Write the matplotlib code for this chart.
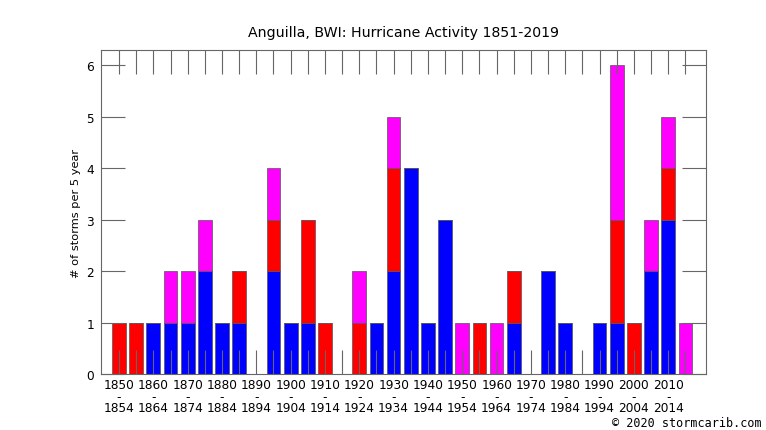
import matplotlib.pyplot as plt
import numpy as np

# 5-year bins, 1850-1854 ... 2015-2019
start_years = list(range(1850, 2020, 5))
blue =    [0, 0, 1, 1, 1, 2, 1, 1, 0, 2, 1, 1, 0, 0, 0, 1, 2, 4, 1, 3, 0, 0, 0, 1, 0, 2, 1, 0, 1, 1, 0, 2, 3, 0]
red =     [1, 1, 0, 0, 0, 0, 0, 1, 0, 1, 0, 2, 1, 0, 1, 0, 2, 0, 0, 0, 0, 1, 0, 1, 0, 0, 0, 0, 0, 2, 1, 0, 1, 0]
magenta = [0, 0, 0, 1, 1, 1, 0, 0, 0, 1, 0, 0, 0, 0, 1, 0, 1, 0, 0, 0, 1, 0, 1, 0, 0, 0, 0, 0, 0, 3, 0, 1, 1, 1]

x = np.arange(len(start_years))
blue = np.array(blue)
red = np.array(red)
magenta = np.array(magenta)

fig = plt.figure(figsize=(7.66, 4.31), dpi=100)
ax = fig.add_axes([101 / 766, 1 - 375 / 431, (706 - 101) / 766, (375 - 51) / 431])

w = 0.8
ec = '#555555'
ax.bar(x, blue, w, color='#0000ff', edgecolor=ec, linewidth=0.5)
ax.bar(x, red, w, bottom=blue, color='#ff0000', edgecolor=ec, linewidth=0.5)
ax.bar(x, magenta, w, bottom=blue + red, color='#ff00ff', edgecolor=ec, linewidth=0.5)

ax.set_xlim(-1.05, 34.2)
ax.set_ylim(0, 6.3)

labels = []
for i, y in enumerate(start_years):
    labels.append(f'{y}\n-\n{y + 4}' if i % 2 == 0 else '')
ax.set_xticks(x)
ax.set_xticklabels(labels, fontsize=8.7, linespacing=0.85)
ax.set_yticks(range(7))
ax.tick_params(axis='both', direction='in', length=17, width=0.8, color='#666666',
               top=True, right=True, labelsize=8.7)
ax.tick_params(axis='x', pad=3)
ax.tick_params(axis='y', pad=5)
for s in ax.spines.values():
    s.set_color('#666666')
    s.set_linewidth(0.8)

ax.set_ylabel('# of storms per 5 year', fontsize=8.2, labelpad=4)
fig.text(403 / 766, 1 - 33 / 431, 'Anguilla, BWI: Hurricane Activity 1851-2019',
         ha='center', va='center', fontsize=10.2)
fig.text(762 / 766, 1 - 424 / 431, '\u00a9 2020 stormcarib.com', ha='right', va='center',
         fontsize=8.5, family='DejaVu Sans Mono')

fig.savefig('out.png', dpi=100)
